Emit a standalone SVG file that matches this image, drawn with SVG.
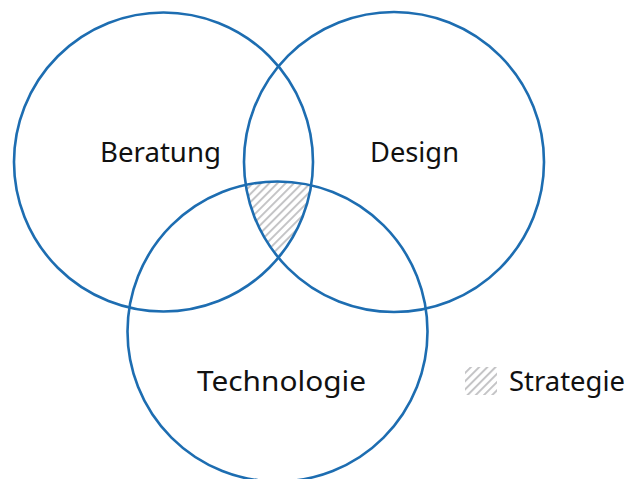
<svg xmlns="http://www.w3.org/2000/svg" width="634" height="479" viewBox="0 0 634 479">
<style>
.c{fill:none;stroke:#1d6db1;stroke-width:2.6}
.t{font-family:"Noto Sans","Open Sans",sans-serif;font-size:28px;fill:#111}
</style>
<defs>
<pattern id="hatch" patternUnits="userSpaceOnUse" width="5.8" height="5.8" patternTransform="rotate(45)">
<line x1="1" y1="0" x2="1" y2="5.8" stroke="#c4c4c6" stroke-width="2"/>
</pattern>
<clipPath id="cA"><circle cx="163.5" cy="162" r="149.5"/></clipPath>
<clipPath id="cB"><circle cx="394" cy="162" r="150"/></clipPath>
<clipPath id="cC"><circle cx="277.5" cy="331.5" r="150"/></clipPath>
</defs>
<rect width="634" height="479" fill="#fff"/>
<g id="strategie-area" clip-path="url(#cC)">
<g clip-path="url(#cB)">
<rect x="0" y="0" width="634" height="479" fill="url(#hatch)" clip-path="url(#cA)"/>
</g>
</g>
<g id="beratung">
<circle class="c" cx="163.5" cy="162" r="149.5"/>
<text class="t" x="100" y="162" textLength="121" lengthAdjust="spacingAndGlyphs">Beratung</text>
</g>
<g id="design">
<circle class="c" cx="394" cy="162" r="150"/>
<text class="t" x="370" y="162" textLength="89" lengthAdjust="spacingAndGlyphs">Design</text>
</g>
<g id="technologie">
<circle class="c" cx="277.5" cy="331.5" r="150"/>
<text class="t" x="197" y="391" textLength="169" lengthAdjust="spacingAndGlyphs">Technologie</text>
</g>
<g id="legend">
<rect x="465" y="367" width="32" height="28" fill="url(#hatch)"/>
<text class="t" x="509" y="391" textLength="116" lengthAdjust="spacingAndGlyphs">Strategie</text>
</g>
</svg>
